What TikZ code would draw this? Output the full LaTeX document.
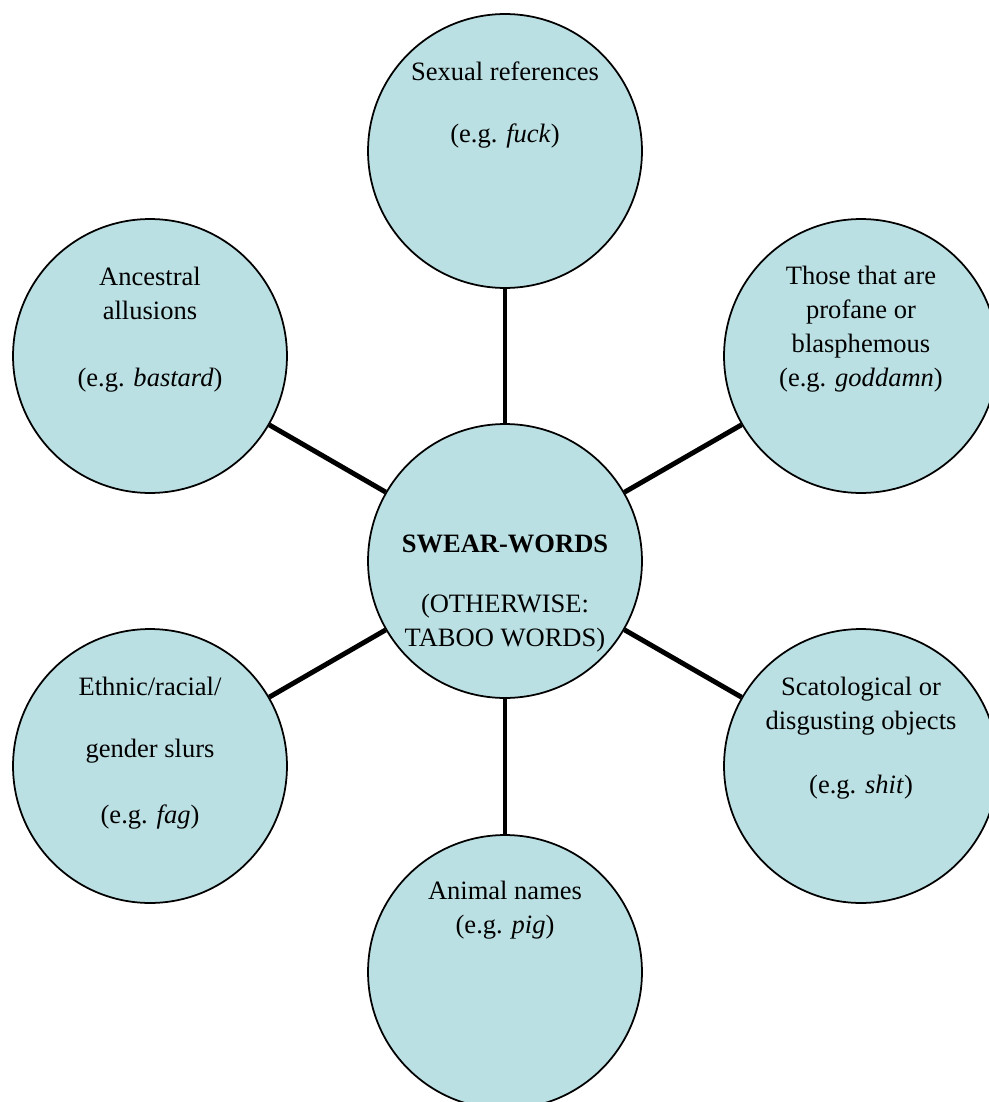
\documentclass[tikz,border=0pt]{standalone}
\usepackage{fontspec}
\setmainfont{Liberation Serif}
\definecolor{bubblefill}{RGB}{187,224,227}

\begin{document}
\begin{tikzpicture}[x=0.02cm, y=-0.02cm,
  bubble/.style={circle, draw, line width=1pt, fill=bubblefill, minimum size=5.48cm, inner sep=0pt},
  spoke/.style={line width=2.8pt},
  words/.style={anchor=north, align=center, inner sep=0pt, font=\fontsize{15.1}{19.3}\selectfont}]
  \useasboundingbox (0,0) rectangle (989,1102);
  % circles
  \node[bubble] (core) at (505,561) {};
  \node[bubble] (sexual) at (505,151) {};
  \node[bubble] (ancestral) at (150,356) {};
  \node[bubble] (profane) at (861,356) {};
  \node[bubble] (ethnic) at (150,766) {};
  \node[bubble] (scatological) at (861,766) {};
  \node[bubble] (animal) at (505,972) {};
  % spokes
  \foreach \outer in {sexual, ancestral, profane, ethnic, scatological, animal}
    \draw[spoke] (core) -- (\outer);
  % texts
  \node[words] (core-txt) at (505,535) {\textbf{SWEAR-WORDS}\\[14.7pt](OTHERWISE:\\TABOO WORDS)};
  \node[words] (sexual-txt) at (505,61) {Sexual references\\[16.4pt](e.g. \textit{fuck})};
  \node[words] (ancestral-txt) at (150,267) {Ancestral\\allusions\\[18.7pt](e.g. \textit{bastard})};
  \node[words] (profane-txt) at (861,266) {Those that are\\profane or\\blasphemous\\(e.g. \textit{goddamn})};
  \node[words] (ethnic-txt) at (150,677) {Ethnic/racial/\\[15.8pt]gender slurs\\[18.1pt](e.g. \textit{fag})};
  \node[words] (scatological-txt) at (861,677) {Scatological or\\disgusting objects\\[17pt](e.g. \textit{shit})};
  \node[words] (animal-txt) at (505,881) {Animal names\\(e.g. \textit{pig})};
\end{tikzpicture}
\end{document}
